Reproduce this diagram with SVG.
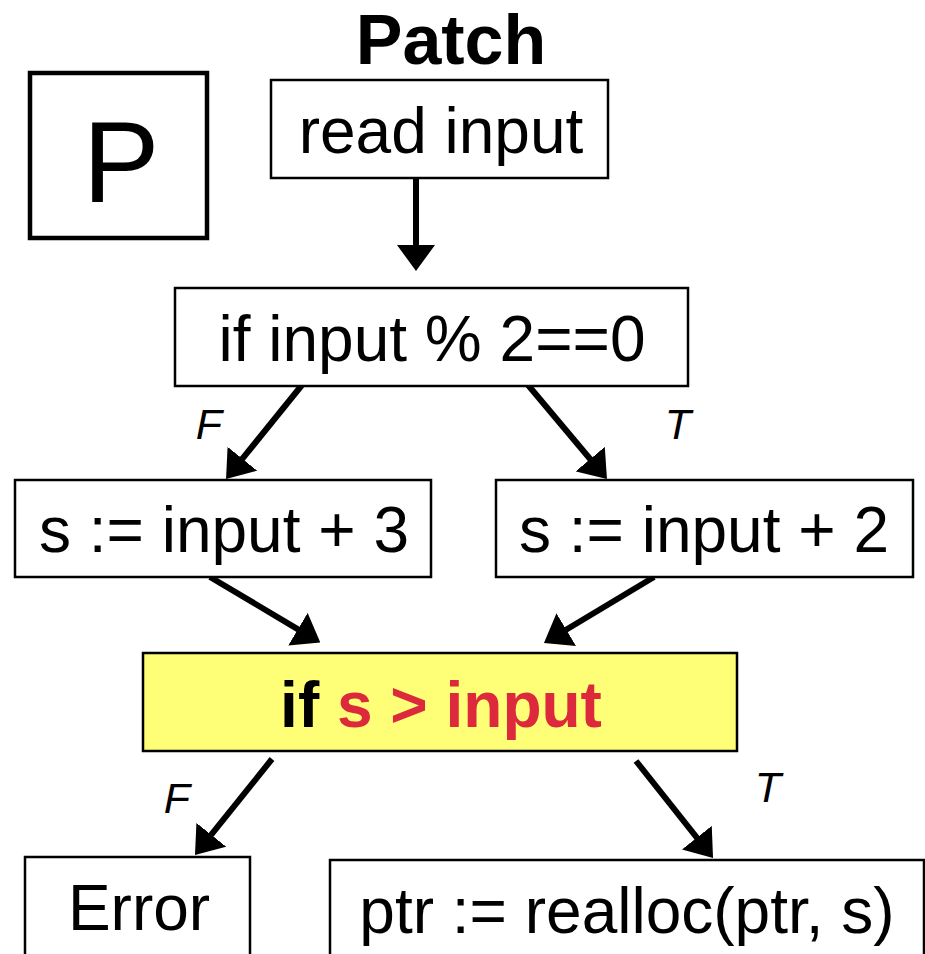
<svg xmlns="http://www.w3.org/2000/svg" width="925" height="954" viewBox="0 0 925 954">
<defs>
<marker id="ah" markerUnits="userSpaceOnUse" viewBox="0 -19 26 38" markerWidth="26" markerHeight="38" refX="6" refY="0" orient="auto">
<path d="M0,-19 L26,0 L0,19 z" fill="#000"/>
</marker>
</defs>
<style>
.box{fill:#fff;stroke:#000;stroke-width:2.5}
.t{font-family:"Liberation Sans",Arial,sans-serif;font-size:64px;fill:#000;text-anchor:middle}
.lbl{font-family:"Liberation Sans",Arial,sans-serif;font-size:43px;font-style:italic;fill:#000;text-anchor:middle}
.c{stroke:#000;stroke-width:6;fill:none;marker-end:url(#ah)}
</style>
<rect width="925" height="954" fill="#fff"/>
<text x="451" y="64" font-family="Liberation Sans, Arial, sans-serif" font-size="70" font-weight="bold" text-anchor="middle">Patch</text>
<g id="pbox">
<rect x="30" y="73" width="177" height="165" fill="#fff" stroke="#000" stroke-width="4.5"/>
<text x="121" y="202" font-family="Liberation Sans, Arial, sans-serif" font-size="115" text-anchor="middle">P</text>
</g>
<g id="connectors">
<path class="c" d="M416,179 L416,251"/>
<path class="c" d="M302,385 L238.6,463.4"/>
<path class="c" d="M528,385 L594.1,463.7"/>
<path class="c" d="M210,577 L303.1,632.3"/>
<path class="c" d="M654,577 L561.1,632.7"/>
<path class="c" d="M272,759 L207.5,839.4"/>
<path class="c" d="M636,761 L700.6,842.3"/>
<text class="lbl" x="209" y="439">F</text>
<text class="lbl" x="678" y="439">T</text>
<text class="lbl" x="177" y="813">F</text>
<text class="lbl" x="768" y="802">T</text>
</g>
<g id="read">
<rect class="box" x="271" y="80" width="337" height="98"/>
<text class="t" x="441" y="153">read input</text>
</g>
<g id="cond1">
<rect class="box" x="175" y="288" width="513" height="98"/>
<text class="t" x="432" y="361">if input % 2==0</text>
</g>
<g id="s3">
<rect class="box" x="15" y="480" width="416" height="97"/>
<text class="t" x="224" y="552">s := input + 3</text>
</g>
<g id="s2">
<rect class="box" x="496" y="480" width="417" height="97"/>
<text class="t" x="704" y="552">s := input + 2</text>
</g>
<g id="cond2">
<rect x="143" y="653" width="594" height="98" fill="#ffff77" stroke="#000" stroke-width="2.5"/>
<text class="t" x="441" y="727" font-weight="bold">if <tspan fill="#dc2a3c">s &gt; input</tspan></text>
</g>
<g id="error">
<rect class="box" x="25" y="857" width="225" height="110"/>
<text class="t" x="139" y="930">Error</text>
</g>
<g id="realloc">
<rect class="box" x="330" y="860" width="594" height="110"/>
<text class="t" x="627" y="933">ptr := realloc(ptr, s)</text>
</g>
</svg>
